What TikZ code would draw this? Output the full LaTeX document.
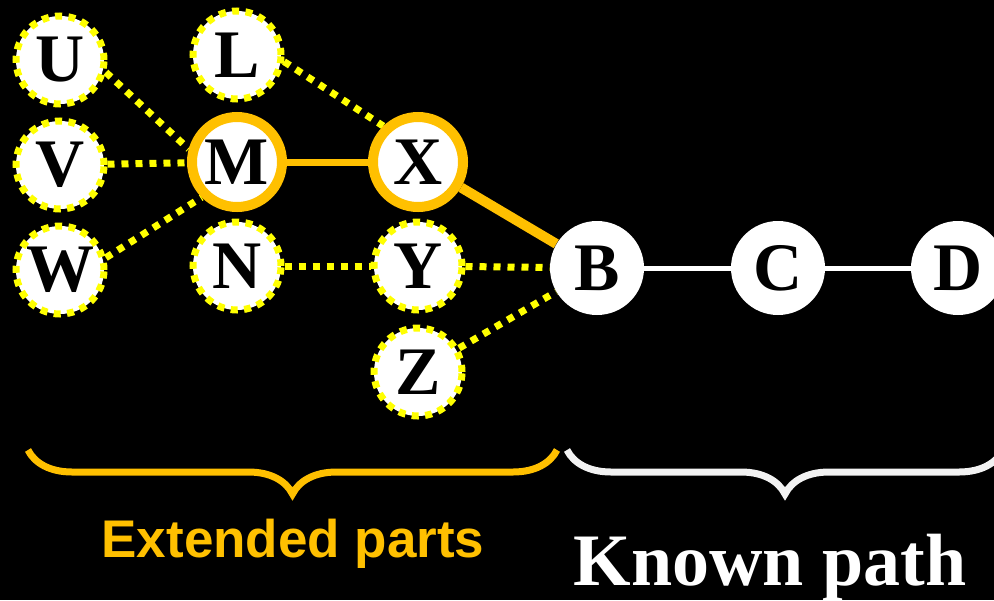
\documentclass[tikz,border=0pt]{standalone}
\usepackage{fontspec}
\setmainfont{Liberation Serif}
\setsansfont{Liberation Sans}
\usetikzlibrary{backgrounds,decorations.pathreplacing}
\definecolor{gold}{RGB}{255,192,0}
\definecolor{dotyellow}{RGB}{255,255,0}
\definecolor{offwhite}{RGB}{242,242,242}

\begin{document}
\begin{tikzpicture}[x=0.5pt,y=-0.5pt,
  vertex/.style={circle,fill=white,inner sep=0pt,minimum size=44pt,font=\fontsize{34}{34}\selectfont\bfseries},
  ext/.style={vertex,draw=dotyellow,line width=3.5pt,dash pattern=on 3.5pt off 3.2pt},
  hot/.style={vertex,draw=gold,line width=5pt,minimum size=45pt},
  known/.style={vertex,minimum size=47pt},
  dotlink/.style={draw=dotyellow,line width=3.5pt,dash pattern=on 3.5pt off 3.5pt},
  bracket/.style={line width=3.5pt,decorate,decoration={brace,mirror,amplitude=22pt}}]

\useasboundingbox (0,0) rectangle (994,600);

% extended parts
\node[ext] (U) at (60,60) {U};
\node[ext] (V) at (60,165) {V};
\node[ext] (W) at (60,270) {W};
\node[ext] (L) at (237,55) {L};
\node[hot] (M) at (237,162) {M};
\node[ext] (N) at (237,266) {N};
\node[hot] (X) at (418,162) {X};
\node[ext] (Y) at (418,266) {Y};
\node[ext] (Z) at (418,372) {Z};

% known path
\node[known] (B) at (597,268) {B};
\node[known] (C) at (778,268) {C};
\node[known] (D) at (958,268) {D};

\begin{scope}[on background layer]
\fill[black] (0,0) rectangle (994,600);
\draw[dotlink] (U.-15) -- (M.165);
\draw[dotlink] (V) -- (M);
\draw[dotlink] (W.15) -- (M.225);
\draw[dotlink] (L.-8) -- (X.134);
\draw[dotlink] (N) -- (Y);
\draw[dotlink] (Y) -- (B);
\draw[dotlink] (Z) -- (B);
\draw[gold,line width=3.5pt] (M) -- (X);
\draw[gold,line width=5pt] (X) -- (B);
\draw[white,line width=2.5pt] (B) -- (C);
\draw[white,line width=2.5pt] (C) -- (D);
\end{scope}

\draw[bracket,gold] (28,450) -- (557,450);
\draw[bracket,offwhite] (567,450) -- (1003,450);

\node[anchor=base,text=gold,font=\sffamily\bfseries\fontsize{26.5}{26.5}\selectfont] (extlabel) at (293,557) {Extended parts};
\node[anchor=base,text=white,font=\bfseries\fontsize{37}{37}\selectfont] (knownlabel) at (770,585) {Known path};

\end{tikzpicture}
\end{document}
